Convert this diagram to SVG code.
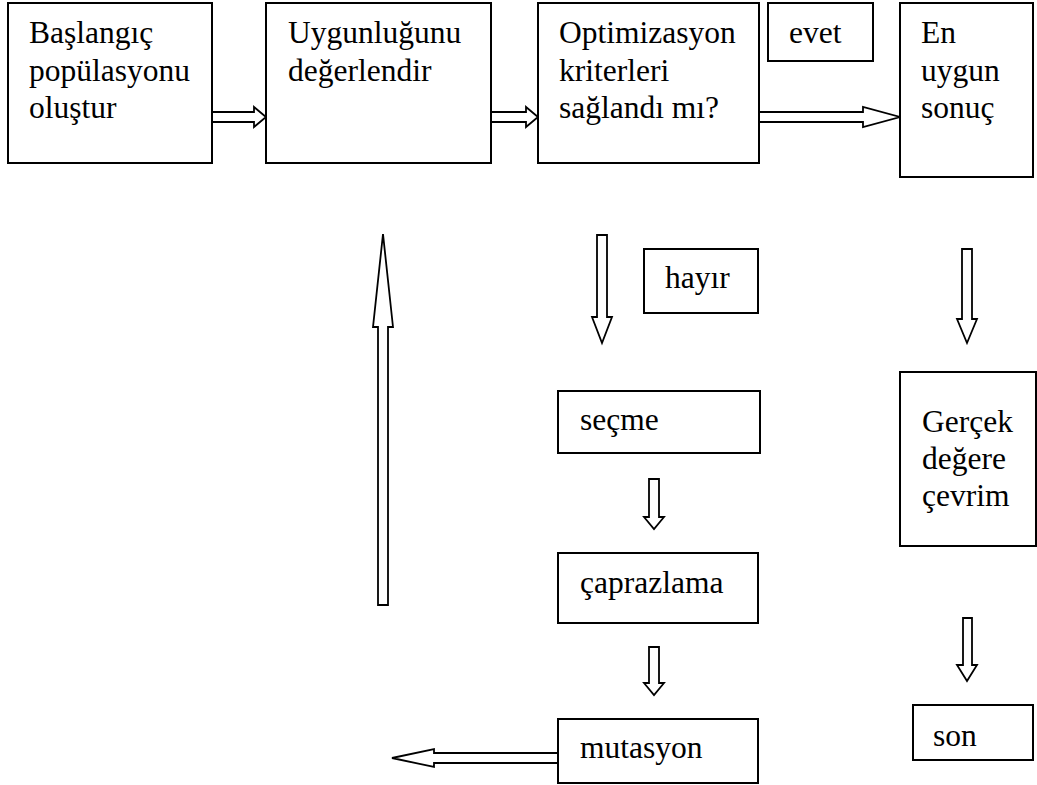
<svg xmlns="http://www.w3.org/2000/svg" width="1037" height="785" viewBox="0 0 1037 785">
<style>
.box{fill:#fff;stroke:#000;stroke-width:2}
.arr{fill:#fff;stroke:#000;stroke-width:1.8;stroke-linejoin:miter}
.t{font-family:"Times New Roman",Tinos,"Liberation Serif",serif;font-size:31.5px;fill:#000}
</style>
<rect width="1037" height="785" fill="#fff"/>
<g id="connectors">
<polygon class="arr" points="212,112 254,112 254,107 266,117 254,127 254,122 212,122"/>
<polygon class="arr" points="491,112 526,112 526,107 538,117 526,127 526,122 491,122"/>
<polygon class="arr" points="759,112 863,112 863,107 900,117 863,127 863,122 759,122"/>
<polygon class="arr" points="378,605 378,327 373,327 383,234 393,327 388,327 388,605"/>
<polygon class="arr" points="597,235 607,235 607,317 612,317 602,343 592,317 597,317"/>
<polygon class="arr" points="962,249 972,249 972,319 977,319 967,343 957,319 962,319"/>
<polygon class="arr" points="649,479 659,479 659,517 664,517 654,529 644,517 649,517"/>
<polygon class="arr" points="649,647 659,647 659,683 664,683 654,695 644,683 649,683"/>
<polygon class="arr" points="558,753 434,753 434,749 392,758 434,767 434,763 558,763"/>
<polygon class="arr" points="963,618 972,618 972,665 977,665 967,681 957,665 963,665"/>
</g>
<g class="t">
<g id="n1"><rect class="box" x="8" y="3" width="204" height="160"/>
<text x="29" y="43">Başlangıç</text><text x="29" y="81">popülasyonu</text><text x="29" y="118">oluştur</text></g>
<g id="n2"><rect class="box" x="266" y="3" width="225" height="160"/>
<text x="288" y="43">Uygunluğunu</text><text x="288" y="81">değerlendir</text></g>
<g id="n3"><rect class="box" x="538" y="3" width="221" height="160"/>
<text x="559" y="43">Optimizasyon</text><text x="559" y="81">kriterleri</text><text x="559" y="118">sağlandı mı?</text></g>
<g id="evet"><rect class="box" x="768" y="3" width="105" height="58"/>
<text x="789" y="43">evet</text></g>
<g id="n5"><rect class="box" x="900" y="3" width="133" height="174"/>
<text x="921" y="43">En</text><text x="921" y="81">uygun</text><text x="921" y="118">sonuç</text></g>
<g id="hayir"><rect class="box" x="644" y="249" width="114" height="64"/>
<text x="665" y="288">hayır</text></g>
<g id="secme"><rect class="box" x="558" y="391" width="202" height="62"/>
<text x="580" y="430">seçme</text></g>
<g id="caprazlama"><rect class="box" x="558" y="553" width="200" height="70"/>
<text x="580" y="593">çaprazlama</text></g>
<g id="mutasyon"><rect class="box" x="558" y="719" width="200" height="64"/>
<text x="580" y="758">mutasyon</text></g>
<g id="gercek"><rect class="box" x="900" y="372" width="136" height="174"/>
<text x="922" y="432">Gerçek</text><text x="922" y="469">değere</text><text x="922" y="506">çevrim</text></g>
<g id="son"><rect class="box" x="913" y="705" width="120" height="55"/>
<text x="933" y="746">son</text></g>
</g>
</svg>
